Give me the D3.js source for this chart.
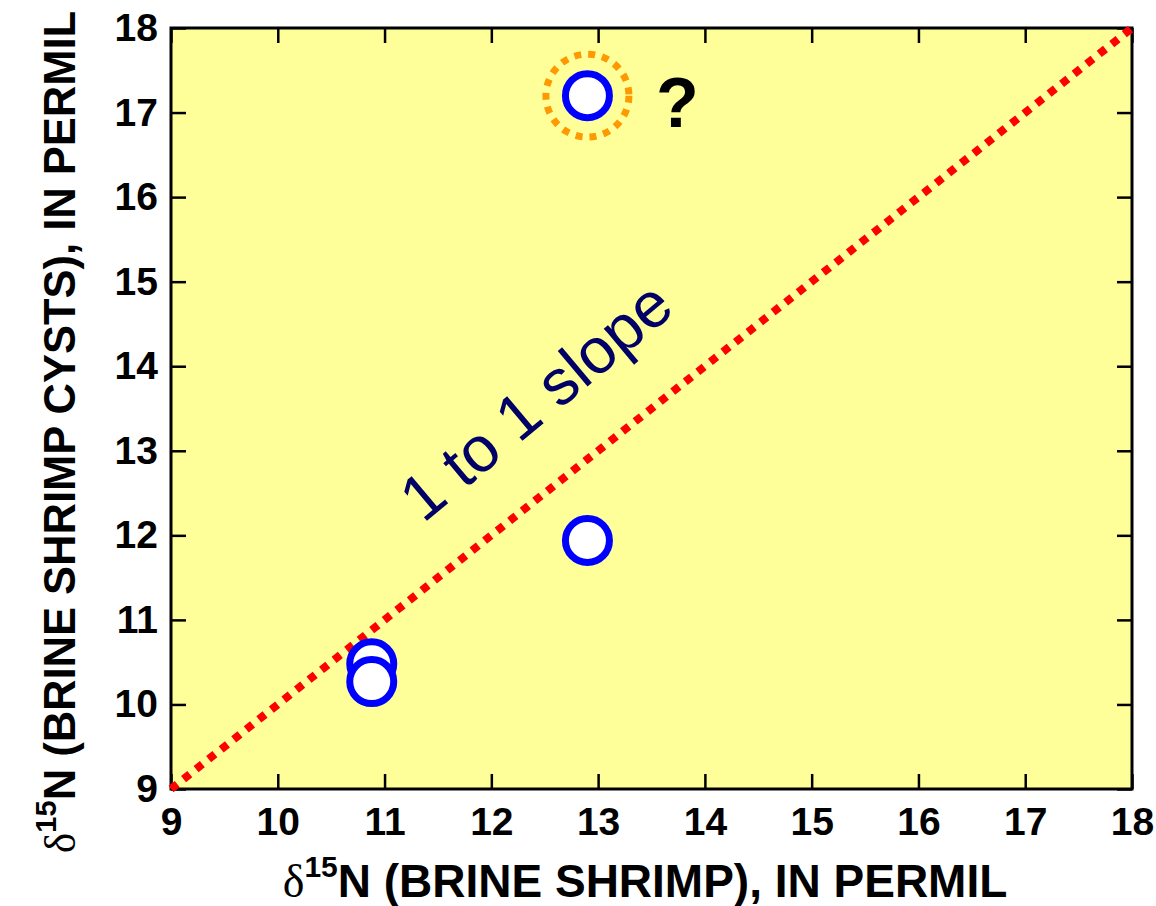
<!DOCTYPE html>
<html>
<head>
<meta charset="utf-8">
<script src="https://cdn.jsdelivr.net/npm/d3@7"></script>
<style>
  body { margin: 0; background: #fff; }
  svg text { font-family: "Liberation Sans", Arial, sans-serif; }
</style>
</head>
<body>
<div id="chart-area"></div>
<script>
// data
const shrimp = [12.9, 12.9, 10.88, 10.88];
const cysts  = [17.2, 11.94, 10.48, 10.27];
const flagged = [true, false, false, false];   // the "?" point
const xTicks = [9, 10, 11, 12, 13, 14, 15, 16, 17, 18];
const yTicks = [9, 10, 11, 12, 13, 14, 15, 16, 17, 18];
const oneToOne = [9, 18];

const margin = {top: 28, right: 24, bottom: 117, left: 171};
const W = 1156, H = 906;
const width = W - margin.left - margin.right;
const height = H - margin.top - margin.bottom;

const svg = d3.select("#chart-area").append("svg")
    .attr("width", W)
    .attr("height", H);

const g = svg.append("g")
    .attr("transform", `translate(${margin.left},${margin.top})`);

const x = d3.scaleLinear().domain([9, 18]).range([0, width]);
const y = d3.scaleLinear().domain([9, 18]).range([height, 0]);

// plot background
g.append("rect")
  .attr("width", width).attr("height", height)
  .attr("fill", "#ffff99");

const tickFont = 39;

const styleAxis = function(sel, hideLabels){
  sel.select(".domain").remove();
  sel.selectAll(".tick line").attr("stroke", "#000").attr("stroke-width", 2.5);
  sel.selectAll(".tick text")
     .attr("fill", "#000")
     .attr("font-size", tickFont)
     .attr("font-weight", "bold")
     .attr("font-family", "'Liberation Sans', Arial, sans-serif");
  if (hideLabels) sel.selectAll(".tick text").remove();
};

g.append("g")
  .attr("transform", `translate(0,${height})`)
  .call(d3.axisBottom(x).tickValues(xTicks).tickSize(-15).tickPadding(18).tickFormat(d3.format("d")))
  .call(styleAxis, false);

g.append("g")
  .call(d3.axisTop(x).tickValues(xTicks).tickSize(-15))
  .call(styleAxis, true);

g.append("g")
  .call(d3.axisLeft(y).tickValues(yTicks).tickSize(-15).tickPadding(13).tickFormat(d3.format("d")))
  .call(styleAxis, false);

g.append("g")
  .attr("transform", `translate(${width},0)`)
  .call(d3.axisRight(y).tickValues(yTicks).tickSize(-15))
  .call(styleAxis, true);

// frame
g.append("rect")
  .attr("width", width).attr("height", height)
  .attr("fill", "none")
  .attr("stroke", "#000")
  .attr("stroke-width", 3);

// 1:1 line
g.append("line")
  .attr("x1", x(oneToOne[0])).attr("y1", y(oneToOne[0]))
  .attr("x2", x(oneToOne[1])).attr("y2", y(oneToOne[1]))
  .attr("stroke", "#ff0000")
  .attr("stroke-width", 8)
  .attr("stroke-dasharray", "8,8");

const angle = Math.atan2(y(9) - y(18), x(18) - x(9)) * 180 / Math.PI;

g.append("text")
  .attr("transform", `translate(${x(12.55)},${y(13.39)}) rotate(${-(angle + 1.6)})`)
  .attr("text-anchor", "middle")
  .attr("font-size", 64)
  .attr("fill", "#000066")
  .text("1 to 1 slope");

const pts = shrimp.map((d, i) => ({x: d, y: cysts[i], flag: flagged[i]}));

// dotted orange ring around the doubtful sample
g.selectAll("circle.ring")
  .data(pts.filter(d => d.flag))
  .enter().append("circle")
  .attr("class", "ring")
  .attr("cx", d => x(d.x)).attr("cy", d => y(d.y))
  .attr("r", 41.5)
  .attr("fill", "none")
  .attr("stroke", "#ff9900")
  .attr("stroke-width", 7)
  .attr("stroke-dasharray", "7,7");

g.selectAll("circle.pt")
  .data(pts)
  .enter().append("circle")
  .attr("class", "pt")
  .attr("cx", d => x(d.x)).attr("cy", d => y(d.y))
  .attr("r", 22)
  .attr("fill", "#fff")
  .attr("stroke", "#0000ff")
  .attr("stroke-width", 7);

g.selectAll("text.q")
  .data(pts.filter(d => d.flag))
  .enter().append("text")
  .attr("class", "q")
  .attr("x", d => x(d.x) + 90)
  .attr("y", d => y(d.y) + 31)
  .attr("text-anchor", "middle")
  .attr("font-size", 70)
  .attr("font-weight", "bold")
  .attr("fill", "#000")
  .text("?");

// axis titles
const xt = svg.append("text")
  .attr("x", 645)
  .attr("y", 897)
  .attr("text-anchor", "middle")
  .attr("font-size", 46)
  .attr("font-weight", "bold")
  .attr("fill", "#000");
xt.append("tspan").attr("font-weight", "normal").attr("font-family", "'Liberation Serif', 'DejaVu Serif', serif").text("δ");
xt.append("tspan").attr("font-size", 30).attr("dy", -20).text("15");
xt.append("tspan").attr("dy", 20).text("N (BRINE SHRIMP), IN PERMIL");

const yt = svg.append("text")
  .attr("transform", "translate(75,432) rotate(-90)")
  .attr("text-anchor", "middle")
  .attr("font-size", 43.5)
  .attr("font-weight", "bold")
  .attr("fill", "#000");
yt.append("tspan").attr("font-weight", "normal").attr("font-family", "'Liberation Serif', 'DejaVu Serif', serif").text("δ");
yt.append("tspan").attr("font-size", 29).attr("dy", -19).text("15");
yt.append("tspan").attr("dy", 19).text("N (BRINE SHRIMP CYSTS), IN PERMIL");
</script>
</body>
</html>
